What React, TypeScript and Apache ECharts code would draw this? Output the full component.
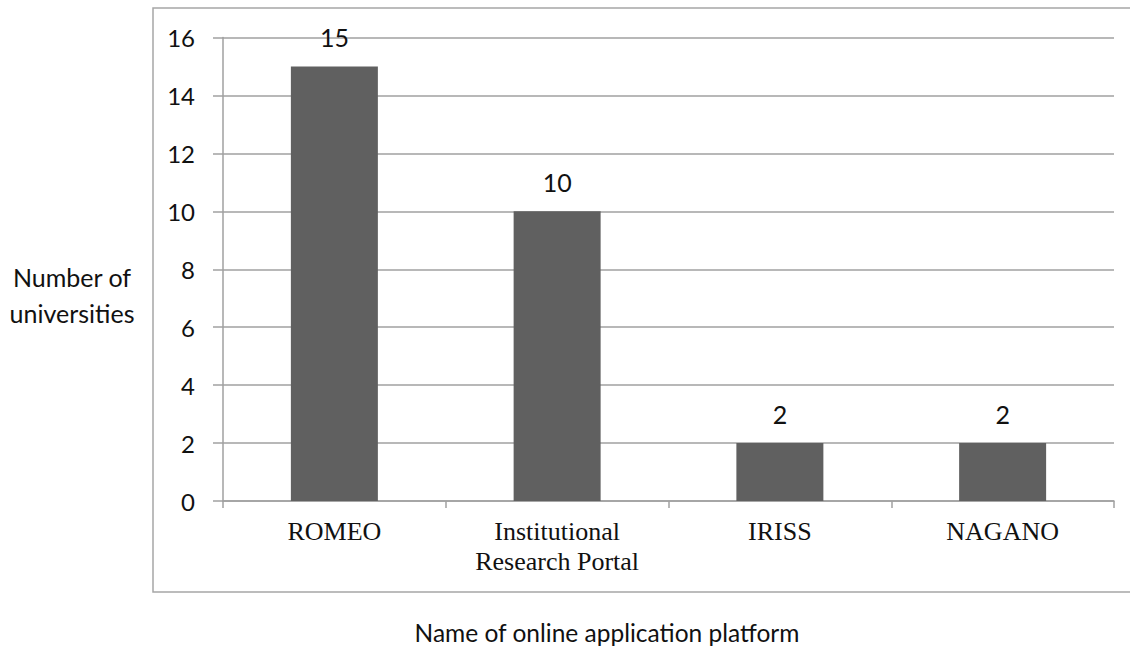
import React, { useEffect, useRef } from "react";
import * as echarts from "echarts";

const categories = ["ROMEO", "Institutional\nResearch Portal", "IRISS", "NAGANO"];
const values = [15, 10, 2, 2];
const yTicks = { min: 0, max: 16, interval: 2 };
const yTitle = "Number of\nuniversities";
const xTitle = "Name of online application platform";

export default function App() {
  const ref = useRef<HTMLDivElement>(null);
  useEffect(() => {
    if (!ref.current) return;
    const chart = echarts.init(ref.current, null, { renderer: "svg" });
    const sans = "Lato, 'Open Sans', sans-serif";
    const serif = "'Liberation Serif', 'DejaVu Serif', serif";
    chart.setOption({
      animation: false,
      backgroundColor: "#ffffff",
      grid: { left: 223, right: 16, top: 37.5, bottom: 145, containLabel: false },
      graphic: [
        {
          type: "rect",
          shape: { x: 153, y: 8, width: 1000, height: 584 },
          style: { fill: "none", stroke: "#a6a6a6", lineWidth: 1.5 },
          silent: true,
          z: -1,
        },
        {
          type: "text",
          x: 72,
          y: 295,
          style: {
            text: yTitle,
            font: `25px ${sans}`,
            fill: "#111111",
            align: "center",
            verticalAlign: "middle",
            lineHeight: 36,
          },
        },
        {
          type: "text",
          x: 607,
          y: 632,
          style: {
            text: xTitle,
            font: `24.5px ${sans}`,
            fill: "#111111",
            align: "center",
            verticalAlign: "middle",
          },
        },
      ],
      xAxis: {
        type: "category",
        data: categories,
        axisLine: { show: true, lineStyle: { color: "#a0a0a0", width: 1.5 } },
        axisTick: { show: true, length: 7, lineStyle: { color: "#a0a0a0", width: 1.5 } },
        axisLabel: {
          interval: 0,
          margin: 15,
          color: "#111111",
          fontFamily: serif,
          fontSize: 26,
          lineHeight: 30,
        },
      },
      yAxis: {
        type: "value",
        min: yTicks.min,
        max: yTicks.max,
        interval: yTicks.interval,
        axisLine: { show: true, lineStyle: { color: "#a0a0a0", width: 1.5 } },
        axisTick: { show: true, length: 10, lineStyle: { color: "#a0a0a0", width: 1.5 } },
        splitLine: { show: true, lineStyle: { color: "#a0a0a0", width: 1.5 } },
        axisLabel: {
          margin: 28,
          color: "#111111",
          fontFamily: sans,
          fontSize: 24,
        },
      },
      series: [
        {
          type: "bar",
          data: values,
          barWidth: 87,
          itemStyle: { color: "#606060" },
          label: {
            show: true,
            position: "top",
            distance: 17,
            color: "#111111",
            fontFamily: sans,
            fontSize: 25,
          },
        },
      ],
    });
    return () => chart.dispose();
  }, []);
  return (
    <div
      ref={ref}
      style={{ position: "fixed", left: 0, top: 0, width: 1130, height: 646 }}
    />
  );
}
